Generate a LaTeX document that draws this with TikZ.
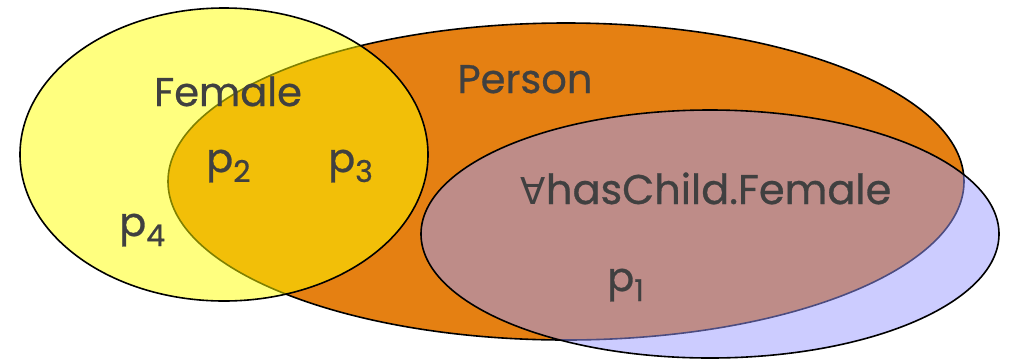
\documentclass[tikz,border=0pt]{standalone}
\usepackage{fontspec}
\setmainfont{Poppins}
\newfontfamily\labelfont{Poppins}[FakeBold=0.7]
\newfontfamily\symfont{DejaVu Sans}
\definecolor{txt}{HTML}{404040}
\definecolor{personfill}{HTML}{E58012}
\definecolor{femalefill}{HTML}{FFFF00}
\definecolor{childfill}{HTML}{9999FF}
\newcommand\lowsub[1]{\raisebox{-10pt}{\fontsize{30}{30}\selectfont #1}}
\tikzset{
  setshape/.style={draw=black, line width=1.6pt},
  bigtext/.style={text=txt, font=\labelfont\fontsize{40}{40}\selectfont, inner sep=0pt},
}
\begin{document}
\begin{tikzpicture}[x=1pt,y=-1pt]
\useasboundingbox (0,0) rectangle (1015,360);
\path[setshape, fill=personfill] (566,181.5) ellipse [x radius=398, y radius=158.5];
\path[setshape, fill=femalefill, fill opacity=0.5] (224,154.5) ellipse [x radius=204, y radius=146.5];
\path[setshape, fill=childfill, fill opacity=0.5] (710,234) ellipse [x radius=289, y radius=124];
\node[bigtext, anchor=base] (female) at (228,106) {Female};
\node[bigtext, anchor=base] (person) at (525,93) {Person};
\node[bigtext, anchor=base, font=\labelfont\fontsize{41.5}{41.5}\selectfont] (child) at (706,204) {{\symfont\fontsize{37}{37}\selectfont ∀}hasChild.Female};
\node[bigtext, anchor=base west] (p2) at (206,172) {p\lowsub{2}};
\node[bigtext, anchor=base west] (p3) at (328,172) {p\lowsub{3}};
\node[bigtext, anchor=base west] (p4) at (119,236) {p\lowsub{4}};
\node[bigtext, anchor=base west] (p1) at (607,291) {p\lowsub{1}};
\end{tikzpicture}
\end{document}
